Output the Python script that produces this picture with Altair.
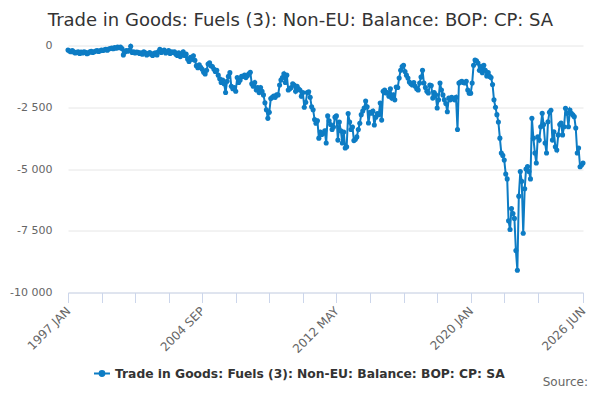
import altair as alt
import pandas as pd

SERIES = "Trade in Goods: Fuels (3): Non-EU: Balance: BOP: CP: SA"
BLUE = "#0d7cc4"

v1997 = [-180, -220, -250, -200, -260, -300, -280, -250, -320, -270, -300, -260]
v1998 = [-280, -330, -300, -260, -230, -280, -250, -220, -200, -240, -210, -180]
v1999 = [-200, -170, -150, -190, -140, -120, -100, -130, -80, -110, -60, -90]
v2000 = [-60, -120, -380, -260, -200, -230, -190, -30, -280, -250, -300, -270]
v2001 = [-280, -320, -300, -350, -260, -300, -380, -330, -290, -350, -400, -320]
v2002 = [-300, -380, -250, -150, -280, -220, -180, -300, -250, -200, -320, -260]
v2003 = [-280, -250, -350, -400, -300, -450, -380, -250, -400, -350, -550, -650]
v2004 = [-480, -560, -420, -600, -820, -900, -780, -880, -960, -1080, -1150, -1000]
v2005 = [-750, -700, -820, -850, -950, -1050, -1000, -1200, -1350, -1500, -1400, -1550]
v2006 = [-1900, -1450, -1250, -1100, -1650, -1750, -1700, -1850, -1300, -1500, -1400, -1250]
v2007 = [-1250, -1200, -1300, -1220, -1150, -1080, -1550, -1650, -1500, -1800, -1700, -1900]
v2008 = [-1700, -1850, -2000, -2320, -2600, -2950, -2700, -2150, -2100, -2050, -2100, -2000]
v2009 = [-2000, -1600, -1400, -1300, -1150, -1500, -1200, -1800, -1750, -1700, -1550, -1600]
v2010 = [-1850, -1650, -1750, -1800, -2050, -1900, -2500, -2300, -1900, -1870, -2100, -2480]
v2011 = [-2600, -3000, -3150, -3050, -3750, -3500, -3600, -3550, -3450, -3950, -2850, -3050]
v2012 = [-3200, -3400, -3300, -2900, -2850, -3830, -3100, -3450, -3950, -3500, -4150, -4100]
v2013 = [-2750, -3100, -3400, -3300, -3850, -3800, -3700, -3400, -3150, -2800, -2650, -2530]
v2014 = [-2250, -2480, -3140, -2700, -2740, -2650, -3220, -2900, -2750, -2800, -2330, -3020]
v2015 = [-1850, -1800, -1920, -1900, -2050, -1750, -2130, -2000, -2200, -1680, -1700, -1320]
v2016 = [-1000, -850, -800, -1050, -1200, -1320, -1480, -1550, -1600, -1500, -1650, -1750]
v2017 = [-1800, -1520, -1280, -1000, -1520, -1700, -1850, -1920, -1600, -1620, -2130, -1900]
v2018 = [-2000, -2530, -2200, -1520, -1800, -2000, -2200, -2350, -2680, -2130, -2200, -2100]
v2019 = [-2150, -2200, -2100, -3400, -1520, -1480, -1450, -1500, -1520, -1450, -1800, -1930]
v2020 = [-1930, -1520, -800, -590, -620, -710, -1000, -850, -1100, -800, -1000, -1230]
v2021 = [-1100, -1250, -1300, -1580, -2200, -2500, -2800, -3100, -3750, -4350, -4450, -4640]
v2022 = [-5200, -5400, -7100, -7450, -6600, -6800, -7000, -8300, -9100, -6100, -5100, -5500]
v2023 = [-7600, -5800, -5000, -4900, -5100, -5400, -2950, -3750, -4350, -4760, -3700, -3830]
v2024 = [-3290, -2740, -3200, -3950, -4350, -3090, -2700, -2620, -3830, -3490, -4100, -4230]
v2025 = [-3620, -3200, -3140, -3620, -3290, -2540, -2740, -3290, -2610, -2740, -2810, -2880]
v2026 = [-3340, -4350, -4150, -4910, -4840, -4760]

values = (v1997 + v1998 + v1999 + v2000 + v2001 + v2002 + v2003 + v2004 + v2005 + v2006
          + v2007 + v2008 + v2009 + v2010 + v2011 + v2012 + v2013 + v2014 + v2015 + v2016
          + v2017 + v2018 + v2019 + v2020 + v2021 + v2022 + v2023 + v2024 + v2025 + v2026)

dates = pd.date_range("1997-01-01", periods=len(values), freq="MS")
df = pd.DataFrame({"date": dates.strftime("%Y-%m-%d"), "value": values, "series": SERIES})

label_months = ["1997-01", "2004-09", "2012-05", "2020-01", "2026-06"]
y_ticks = [0, -2500, -5000, -7500, -10000]


def ms(d):
    return int(pd.Timestamp(d).tz_localize("UTC").timestamp() * 1000)


tick_vals = [ms(dates[23 * k]) for k in range(15)] + [ms(dates[-1])]
x_domain = [ms(dates[0]), ms(dates[-1])]

label_expr_x = (
    "indexof(" + str(label_months) + ", utcFormat(datum.value, '%Y-%m')) >= 0 ? "
    "upper(utcFormat(datum.value, '%Y %b')) : ''"
)
label_expr_y = (
    "datum.value == 0 ? '0' : '-' + replace(format(abs(datum.value), ','), ',', ' ')"
)

FONT = "DejaVu Sans"
LEG_PATH = "M-1,0L1,0M-0.3,0A0.3,0.3,0,1,1,0.3,0A0.3,0.3,0,1,1,-0.3,0Z"

line = alt.Chart(df).mark_line(
    strokeWidth=2,
    point=alt.OverlayMarkDef(filled=True, size=26),
).encode(
    x=alt.X(
        "date:T",
        title=None,
        scale=alt.Scale(type="utc", domain=x_domain, nice=False),
        axis=alt.Axis(
            values=tick_vals,
            labelExpr=label_expr_x,
            labelAngle=-45,
            labelAlign="right",
            labelBaseline="middle",
            labelPadding=6,
            labelFont=FONT,
            labelFontSize=12,
            labelColor="#666666",
            labelOverlap=False,
            labelFlush=False,
            grid=False,
            domainColor="#ccd6eb",
            tickColor="#ccd6eb",
            tickSize=10,
        ),
    ),
    y=alt.Y(
        "value:Q",
        title=None,
        scale=alt.Scale(domain=[-10000, 0], nice=False),
        axis=alt.Axis(
            values=y_ticks,
            labelExpr=label_expr_y,
            labelFont=FONT,
            labelFontSize=11,
            labelColor="#666666",
            labelPadding=16,
            domain=False,
            ticks=False,
            grid=True,
            gridColor="#e6e6e6",
        ),
    ),
    color=alt.Color(
        "series:N",
        scale=alt.Scale(range=[BLUE]),
        legend=alt.Legend(
            title=None,
            orient="none",
            legendX=25,
            legendY=319,
            padding=0,
            symbolType=LEG_PATH,
            symbolSize=256,
            symbolStrokeWidth=2,
            symbolFillColor=BLUE,
            symbolStrokeColor=BLUE,
            labelFont=FONT,
            labelFontSize=12.3,
            labelFontWeight="bold",
            labelColor="#333333",
            labelLimit=800,
        ),
    ),
)

source = alt.Chart(pd.DataFrame({"t": ["Source:"]})).mark_text(
    align="right", baseline="alphabetic", fontSize=12, color="#666666", font=FONT
).encode(x=alt.value(520), y=alt.value(340), text="t:N")

chart = alt.layer(line, source).properties(
    width=515,
    height=247,
    padding={"left": 60, "top": 37.5, "right": 9, "bottom": 99.5},
    autosize=alt.AutoSizeParams(type="none"),
    title=alt.TitleParams(
        SERIES,
        font=FONT,
        fontSize=18,
        fontWeight="normal",
        color="#333333",
        anchor="middle",
        dx=-25,
        offset=10,
    ),
).configure_view(stroke=None)

chart.save("out.html", embed_options={"renderer": "svg", "actions": False})
